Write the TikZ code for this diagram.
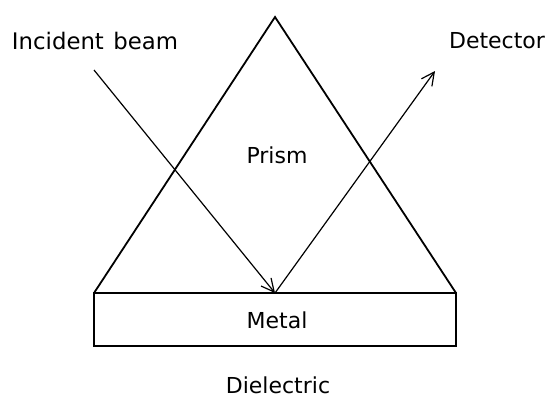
\documentclass[tikz,border=0pt]{standalone}
\usepackage{fontspec}
\setmainfont[WordSpace=1.3]{DejaVu Sans}
\usetikzlibrary{arrows.meta, positioning, calc}
\tikzset{
  label/.style={font=\fontsize{16.5}{18}\selectfont, inner sep=0pt, text=black},
  wall/.style={draw=black, line width=1.35pt},
  beam/.style={-{Straight Barb[length=3.4mm,width=3.4mm]}, draw=black, line width=0.9pt}
}
\begin{document}
\begin{tikzpicture}[x=1pt,y=-1pt,scale=0.75]
  \useasboundingbox (0,0) rectangle (546,397);
  \coordinate (apex) at (275,17);
  \coordinate (left) at (94,293);
  \coordinate (right) at (456,293);
  \coordinate (source) at (94,70);
  \coordinate (hit) at (275,293);
  \coordinate (sink) at (435,71);
  \node[wall, outer sep=0pt, minimum width=271.5pt, minimum height=39.75pt, inner sep=0pt, anchor=north west] (metalbox) at (94,293) {};
  \draw[wall, line join=miter] (left) -- (apex) -- (right);
  \draw[beam] (source) -- (hit);
  \draw[beam] (hit) -- (sink);
  \node[label, font=\fontsize{17.1}{18}\selectfont] (incident) at (95,41) {Incident beam};
  \node[label] (detector) at (497,41) {Detector};
  \node[label] (prism) at (277,155) {Prism};
  \node[label] (metal) at (277,320) {Metal};
  \node[label] (dielectric) at (278,385) {Dielectric};
\end{tikzpicture}
\end{document}
